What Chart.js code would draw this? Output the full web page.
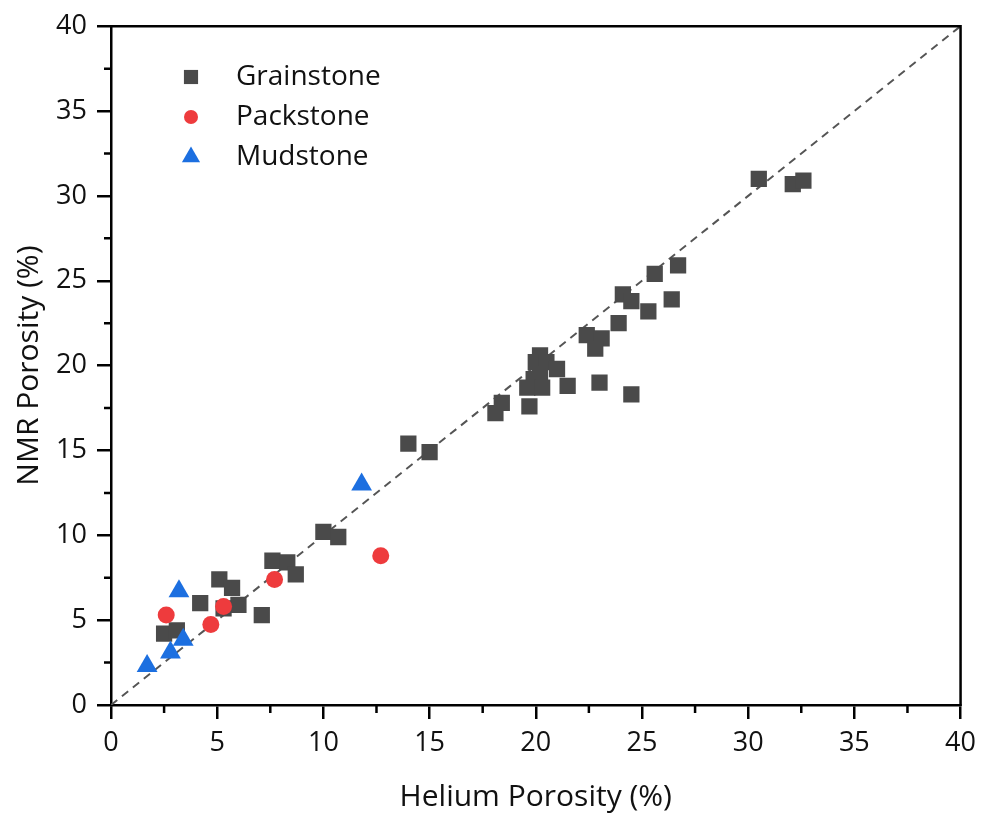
<!DOCTYPE html>
<html>
<head>
<meta charset="utf-8">
<script src="https://cdn.jsdelivr.net/npm/chart.js@4/dist/chart.umd.min.js"></script>
<style>
  html, body { margin: 0; padding: 0; background: #fff; }
  #wrap { width: 984px; height: 816px; }
</style>
</head>
<body>
<div id="wrap"><canvas id="porosityChart"></canvas></div>
<script>
// Helium vs NMR porosity, by rock type
const grainHelium = [30.5, 32.1, 32.6, 26.7, 25.6, 24.1, 24.5, 26.4, 25.3, 23.9, 22.4, 23.1, 22.8,
  20.2, 20.0, 20.5, 21.0, 20.2, 19.9, 19.6, 20.3, 21.5, 23.0, 24.5, 18.4, 18.1, 19.7,
  14.0, 15.0, 10.0, 10.7, 7.6, 8.3, 8.7, 5.1, 5.7, 4.2, 6.0, 5.3, 7.1, 2.5, 3.1];
const grainNmr = [31.0, 30.7, 30.9, 25.9, 25.4, 24.2, 23.8, 23.9, 23.2, 22.5, 21.8, 21.6, 21.0,
  20.6, 20.2, 20.2, 19.8, 19.5, 19.2, 18.7, 18.7, 18.8, 19.0, 18.3, 17.8, 17.2, 17.6,
  15.4, 14.9, 10.2, 9.9, 8.5, 8.4, 7.7, 7.4, 6.9, 6.0, 5.9, 5.7, 5.3, 4.2, 4.4];

const packHelium = [2.6, 4.7, 5.3, 7.7, 12.7];
const packNmr = [5.3, 4.75, 5.8, 7.4, 8.8];

const mudHelium = [1.7, 2.8, 3.2, 3.4, 11.8];
const mudNmr = [2.3, 3.1, 6.7, 3.85, 13.0];

// 1:1 reference line
const diagonal = [0, 40];

const minorTickValues = [2.5, 7.5, 12.5, 17.5, 22.5, 27.5, 32.5, 37.5];

const seriesNames = ['Grainstone', 'Packstone', 'Mudstone'];
const seriesColors = ['#4a4a4a', '#ee3b3d', '#1c6fe0'];
const seriesShapes = ['rect', 'circle', 'triangle'];
const seriesRadius = [11.5, 8.5, 12];

const FONT = '"Open Sans", "Noto Sans", sans-serif';
const LINE_W = 2.5;

const toPoints = (xs, ys) => xs.map((v, i) => ({x: v, y: ys[i]}));

const seriesData = [
  toPoints(grainHelium, grainNmr),
  toPoints(packHelium, packNmr),
  toPoints(mudHelium, mudNmr)
];

const datasets = seriesData.map((pts, i) => ({
  label: seriesNames[i],
  data: pts,
  pointStyle: seriesShapes[i],
  pointRadius: seriesRadius[i],
  pointBackgroundColor: seriesColors[i],
  pointBorderWidth: 0,
  showLine: false,
  order: 3 - i
}));

datasets.push({
  label: '1:1',
  type: 'line',
  data: toPoints(diagonal, diagonal),
  borderColor: '#555',
  borderWidth: 2,
  borderDash: [8, 6],
  pointRadius: 0,
  fill: false,
  order: 4
});

// short minor ticks plus the top/right sides of the box
const frameAndMinorTicks = {
  id: 'frameAndMinorTicks',
  afterDraw(chart) {
    const {ctx, chartArea: a, scales: {x, y}} = chart;
    ctx.save();
    ctx.strokeStyle = '#000';
    ctx.lineWidth = LINE_W;
    ctx.beginPath();
    minorTickValues.forEach(v => {
      const px = x.getPixelForValue(v);
      ctx.moveTo(px, a.bottom);
      ctx.lineTo(px, a.bottom + 8);
      const py = y.getPixelForValue(v);
      ctx.moveTo(a.left, py);
      ctx.lineTo(a.left - 7, py);
    });
    ctx.moveTo(a.left - 1, a.top);
    ctx.lineTo(a.right, a.top);
    ctx.lineTo(a.right, a.bottom + 1);
    ctx.stroke();
    ctx.restore();
  }
};

// legend sits inside the plot, top left
const insideLegend = {
  id: 'insideLegend',
  afterDraw(chart) {
    const {ctx} = chart;
    ctx.save();
    seriesNames.forEach((name, i) => {
      const cy = 77 + i * 40;
      ctx.fillStyle = seriesColors[i];
      Chart.helpers.drawPoint(ctx, {
        pointStyle: seriesShapes[i],
        radius: seriesRadius[i] - 1.5,
        rotation: 0,
        borderWidth: 0
      }, 191, cy);
      ctx.fillStyle = '#111';
      ctx.font = '28px ' + FONT;
      ctx.textAlign = 'left';
      ctx.textBaseline = 'middle';
      ctx.fillText(name, 236, cy);
    });
    ctx.restore();
  }
};

const axisCommon = {
  type: 'linear',
  min: 0,
  max: 40,
  ticks: {
    stepSize: 5,
    autoSkip: false,
    color: '#111',
    font: {family: FONT, size: 27}
  },
  grid: {
    drawOnChartArea: false,
    drawTicks: true,
    tickLength: 14,
    color: '#000',
    lineWidth: LINE_W
  },
  border: {display: true, color: '#000', width: LINE_W}
};

const config = {
  type: 'scatter',
  data: {datasets},
  options: {
    responsive: true,
    maintainAspectRatio: false,
    animation: false,
    layout: {padding: {top: 22, right: 22, left: 0, bottom: 0}},
    plugins: {
      legend: {display: false},
      tooltip: {enabled: false}
    },
    scales: {
      x: {
        ...axisCommon,
        ticks: {...axisCommon.ticks, padding: 8},
        title: {
          display: true,
          text: 'Helium Porosity (%)',
          color: '#111',
          font: {family: FONT, size: 30, lineHeight: 1.2},
          padding: {top: 0, bottom: 1}
        },
        afterFit(scale) { scale.height = 111; }
      },
      y: {
        ...axisCommon,
        ticks: {...axisCommon.ticks, padding: 10},
        title: {
          display: true,
          text: 'NMR Porosity (%)',
          color: '#111',
          font: {family: FONT, size: 30, lineHeight: 1.2},
          padding: {top: 11, bottom: 0}
        },
        afterFit(scale) { scale.width = 111; }
      }
    }
  },
  plugins: [frameAndMinorTicks, insideLegend]
};

const porosityChart = new Chart(document.getElementById('porosityChart'), config);
</script>
</body>
</html>
